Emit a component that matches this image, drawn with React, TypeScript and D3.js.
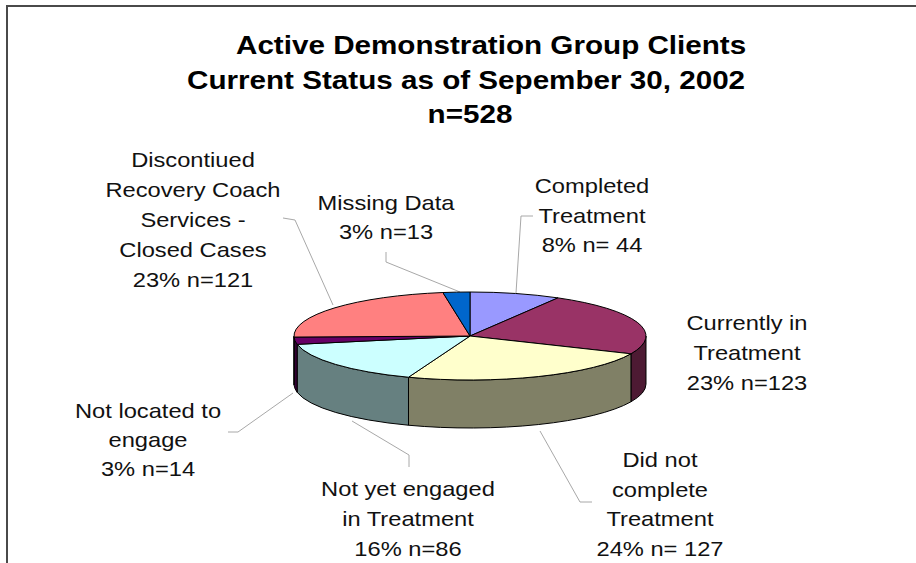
import React from "react";
import * as d3 from "d3";

// ---- data ----
const categories = [
  "Completed Treatment",
  "Currently in Treatment",
  "Did not complete Treatment",
  "Not yet engaged in Treatment",
  "Not located to engage",
  "Discontiued Recovery Coach Services - Closed Cases",
  "Missing Data",
];
const counts = [44, 123, 127, 86, 14, 121, 13];
const labelLines = [
  ["Completed", "Treatment", "8% n= 44"],
  ["Currently in", "Treatment", "23% n=123"],
  ["Did not", "complete", "Treatment", "24% n= 127"],
  ["Not yet engaged", "in Treatment", "16% n=86"],
  ["Not located to", "engage", "3% n=14"],
  ["Discontiued", "Recovery Coach", "Services -", "Closed Cases", "23% n=121"],
  ["Missing Data", "3% n=13"],
];
const titleLines = [
  "Active Demonstration Group Clients",
  "Current Status as of Sepember 30, 2002",
  "n=528",
];

// ---- styles / layout ----
const topColors = ["#9999FF", "#993366", "#FFFFCC", "#CCFFFF", "#660066", "#FF8080", "#0066CC"];
const sideColors = ["#4D4D80", "#4D1A33", "#808066", "#668080", "#330033", "#804040", "#003366"];

const W = 916;
const H = 563;
const cx = 470;
const cy = 336;
const rx = 176;
const ry = 44;
const depth = 48;
const SX = 1.185;

type LabelLayout = { x: number; y: number; dy: number; leader: [number, number][] };
const labelLayout: LabelLayout[] = [
  { x: 592, y: 193, dy: 29.5, leader: [[533, 216], [521, 216], [516, 293]] },
  { x: 747, y: 330, dy: 30, leader: [] },
  { x: 660, y: 467, dy: 29.7, leader: [[592, 502], [580, 502], [540, 431]] },
  { x: 408, y: 496, dy: 30, leader: [[409, 467], [409, 455], [352, 421]] },
  { x: 148, y: 418, dy: 29, leader: [[228, 432], [238, 432], [293, 393]] },
  { x: 193, y: 167, dy: 30, leader: [[283, 218], [295, 220], [333, 305]] },
  { x: 386, y: 210, dy: 29, leader: [[386, 252], [386, 262], [460, 292]] },
];

const titleLayout = [
  { x: 236, y: 54, anchor: "start" },
  { x: 187, y: 89, anchor: "start" },
  { x: 470, y: 123, anchor: "middle" },
];

function pt(a: number, dz = 0): [number, number] {
  return [cx + rx * Math.sin(a), cy - ry * Math.cos(a) + dz];
}

export default function App() {
  const pie = d3
    .pie<number>()
    .sort(null)
    .startAngle(0)
    .endAngle(2 * Math.PI)
    .value((d) => d);
  const arcs = pie(counts);

  const fmt = (p: [number, number]) => `${p[0].toFixed(2)},${p[1].toFixed(2)}`;

  const topPaths = arcs.map((a) => {
    const large = a.endAngle - a.startAngle > Math.PI ? 1 : 0;
    return `M${cx},${cy}L${fmt(pt(a.startAngle))}A${rx},${ry} 0 ${large} 1 ${fmt(pt(a.endAngle))}Z`;
  });

  const frontStart = Math.PI / 2;
  const frontEnd = (3 * Math.PI) / 2;
  const walls: { d: string; i: number }[] = [];
  arcs.forEach((a, i) => {
    const b0 = Math.max(a.startAngle, frontStart);
    const b1 = Math.min(a.endAngle, frontEnd);
    if (b1 <= b0) return;
    const large = b1 - b0 > Math.PI ? 1 : 0;
    const d =
      `M${fmt(pt(b0))}A${rx},${ry} 0 ${large} 1 ${fmt(pt(b1))}` +
      `L${fmt(pt(b1, depth))}A${rx},${ry} 0 ${large} 0 ${fmt(pt(b0, depth))}Z`;
    walls.push({ d, i });
  });

  const line = d3.line();
  const font = "'Liberation Sans', Arial, Helvetica, sans-serif";

  return (
    <svg
      width={W}
      height={H}
      style={{ position: "absolute", left: 0, top: 0, background: "#fff" }}
      fontFamily={font}
    >
      <rect x={0} y={0} width={W} height={H} fill="#fff" />
      <rect x={7} y={6} width={W + 20} height={H + 20} fill="none" stroke="#4a4a4a" strokeWidth={2} />

      {titleLines.map((t, i) => (
        <g key={t} transform={`translate(${titleLayout[i].x},${titleLayout[i].y}) scale(${SX},1)`}>
          <text textAnchor={titleLayout[i].anchor as any} fontSize={25} fontWeight="bold" fill="#000">
            {t}
          </text>
        </g>
      ))}

      {labelLayout.map((l, i) =>
        l.leader.length ? (
          <path key={"ld" + i} d={line(l.leader) || ""} fill="none" stroke="#a8a8a8" strokeWidth={1} />
        ) : null
      )}

      {walls.map((w) => (
        <path key={"w" + w.i} d={w.d} fill={sideColors[w.i]} stroke="#000" strokeWidth={1} strokeLinejoin="round" />
      ))}
      {topPaths.map((d, i) => (
        <path key={"t" + i} d={d} fill={topColors[i]} stroke="#000" strokeWidth={1} strokeLinejoin="round">
          <title>{categories[i]}</title>
        </path>
      ))}

      {labelLayout.map((l, i) => (
        <g key={"lb" + i}>
          {labelLines[i].map((s, j) => (
            <g key={j} transform={`translate(${l.x},${l.y + j * l.dy}) scale(${SX},1)`}>
              <text textAnchor="middle" fontSize={20} fill="#111">
                {s}
              </text>
            </g>
          ))}
        </g>
      ))}
    </svg>
  );
}
